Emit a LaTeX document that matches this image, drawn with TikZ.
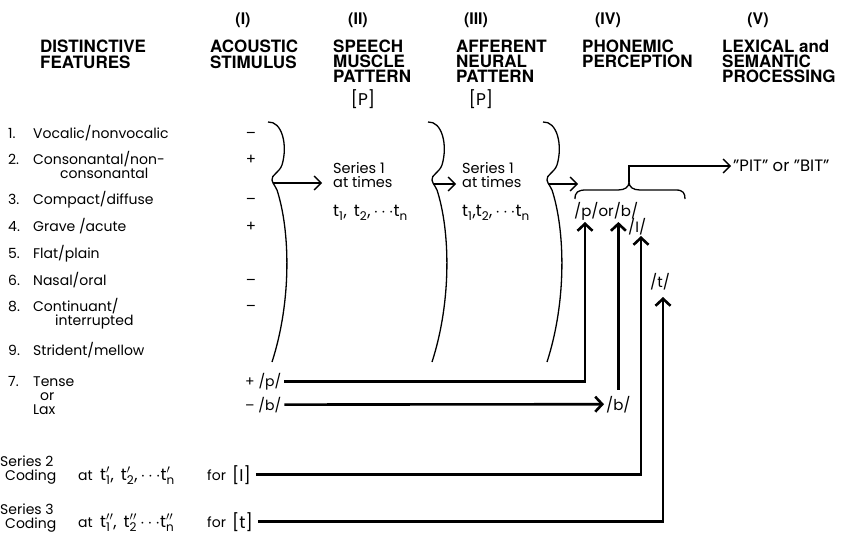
\documentclass[tikz,border=0pt]{standalone}
\usepackage{fontspec}
\setmainfont{Poppins}
\newfontfamily\headfont{TeX Gyre Heros}
\usetikzlibrary{arrows.meta}
\newcommand{\tsub}[2]{t$^{#2}_{\mbox{\fontsize{12}{12}\selectfont #1}}$}
\tikzset{
  hd/.style={font=\headfont\bfseries\fontsize{17}{16}\selectfont, align=left, anchor=north west, inner sep=0pt},
  hdtight/.style={hd, font=\headfont\bfseries\fontsize{17}{15}\selectfont},
  num/.style={font=\headfont\bfseries\fontsize{16}{16}\selectfont, inner sep=0pt},
  txt/.style={font=\fontsize{14}{14}\selectfont, anchor=base west, inner sep=0pt},
  tms/.style={txt, font=\fontsize{16.5}{16}\selectfont},
  sgn/.style={font=\fontsize{15}{15}\selectfont, anchor=base, inner sep=0pt},
  brk/.style={font=\fontsize{17}{17}\selectfont, anchor=base west, inner sep=0pt},
  brace/.style={line width=1.3pt},
  thinarr/.style={line width=1.4pt, -{Straight Barb[length=7pt,width=14pt]}},
  thickarr/.style={line width=2.6pt, -{Straight Barb[length=7pt,width=15pt]}}
}
\begin{document}
\begin{tikzpicture}[x=1pt,y=-1pt]
\useasboundingbox (0,0) rectangle (845,535);
% column heads
\node[num] (nI) at (243,20) {(I)};
\node[num] (nII) at (358,20) {(II)};
\node[num] (nIII) at (476,20) {(III)};
\node[num] (nIV) at (608,20) {(IV)};
\node[num] (nV) at (758,20) {(V)};
\node[hd] (feat) at (40,40) {DISTINCTIVE\\FEATURES};
\node[hd] (acou) at (210,40) {ACOUSTIC\\STIMULUS};
\node[hdtight] (musc) at (333,40) {SPEECH\\MUSCLE\\PATTERN};
\node[hdtight] (neur) at (456,40) {AFFERENT\\NEURAL\\PATTERN};
\node[hdtight] (phon) at (582,40) {PHONEMIC\\PERCEPTION};
\node[hdtight] (lex) at (722,40) {LEXICAL and\\SEMANTIC\\PROCESSING};
\node[brk, anchor=base] (pm) at (363,105) {[P]};
\node[brk, anchor=base] (pn) at (481,105) {[P]};
% features
\node[txt] (r1) at (8,138) {\makebox[25pt][l]{1.}Vocalic/nonvocalic};
\node[txt] (r2) at (8,164) {\makebox[25pt][l]{2.}Consonantal/non-};
\node[txt] (r2b) at (60,178) {consonantal};
\node[txt] (r3) at (8,204) {\makebox[25pt][l]{3.}Compact/diffuse};
\node[txt] (r4) at (8,231) {\makebox[25pt][l]{4.}Grave /acute};
\node[txt] (r5) at (8,258) {\makebox[25pt][l]{5.}Flat/plain};
\node[txt] (r6) at (8,285) {\makebox[25pt][l]{6.}Nasal/oral};
\node[txt] (r8) at (8,311) {\makebox[25pt][l]{8.}Continuant/};
\node[txt] (r8b) at (55,325) {interrupted};
\node[txt] (r9) at (8,355) {\makebox[25pt][l]{9.}Strident/mellow};
\node[txt] (r7) at (8,386) {\makebox[25pt][l]{7.}Tense};
\node[txt] (r7b) at (40,400) {or};
\node[txt] (r7c) at (33,414) {Lax};
% feature values
\node[sgn] at (251,138) {--};
\node[sgn] at (251,164) {+};
\node[sgn] at (251,204) {--};
\node[sgn] at (251,231) {+};
\node[sgn] at (251,285) {--};
\node[sgn] at (251,311) {--};
\node[txt] (p) at (245,386) {+ /p/};
\node[txt] (b) at (245,410) {-- /b/};
% braces
\foreach \bx in {268,428,543}
  \draw[brace, xshift=\bx pt] (0,122) .. controls (14,121) and (20,145) .. (14,165)
    .. controls (11,173) and (3,175) .. (4,180) .. controls (5,185) and (8,186) .. (9,190)
    .. controls (22,230) and (24,300) .. (4,362);
\coordinate (j1) at (273,183);
\coordinate (j2) at (433,184);
\coordinate (j3) at (548,184);
\coordinate (a1) at (322,183);
\coordinate (a2) at (456,184);
\coordinate (a3) at (578,184);
\draw[thinarr] (j1) -- (a1);
\draw[thinarr] (j2) -- (a2);
\draw[thinarr] (j3) -- (a3);
\node[txt, align=left, font=\fontsize{14.5}{14}\selectfont] (s1a) at (333,187) {Series 1\\at times};
\node[tms] (t1a) at (333,216) {\tsub{1}{},\, \tsub{2}{},$\,\cdots$\tsub{n}{}};
\node[txt, align=left, font=\fontsize{14.5}{14}\selectfont] (s1b) at (462,187) {Series 1\\at times};
\node[tms] (t1b) at (462,216) {\tsub{1}{},\tsub{2}{},$\,\cdots$\tsub{n}{}};
% phonemic perception
\draw[brace] (575,199) .. controls (575,192) and (578,190) .. (586,190) -- (618,190)
  .. controls (625,190) and (629,187) .. (629,182) .. controls (629,187) and (633,190) .. (640,190)
  -- (676,190) .. controls (683,190) and (685,193) .. (685,199);
\coordinate (hb) at (629,182);
\node[txt, anchor=west, font=\fontsize{16.5}{16}\selectfont] (pit) at (733,166) {"PIT" or "BIT"};
\draw[thinarr] (hb) |- ([xshift=-2pt]pit.west);
\node[txt, font=\fontsize{15}{15}\selectfont] (pob) at (574,216) {/p/or/b/};
\node[txt, font=\fontsize{15}{15}\selectfont] (ph) at (628,232) {/I/};
\node[txt, font=\fontsize{15}{15}\selectfont] (th) at (650,287) {/t/};
\node[txt, font=\fontsize{15}{15}\selectfont] (b2) at (606,410) {/b/};
\coordinate (tP) at (585,222);
\coordinate (tB) at (617,222);
\coordinate (tI) at (641,236);
\coordinate (tT) at (663,297);
% coding series
\node[txt] (s2) at (0,466) {Series 2};
\node[txt] (c2) at (5,480) {Coding};
\node[txt] (at2) at (78,480) {at};
\node[tms] (f2) at (100,480) {\tsub{1}{\prime},\, \tsub{2}{\prime},$\,\cdots$\tsub{n}{\prime}};
\node[txt] (for2) at (207,480) {for};
\node[brk] (i2) at (232,481) {[I]};
\node[txt] (s3) at (0,514) {Series 3};
\node[txt] (c3) at (5,528) {Coding};
\node[txt] (at3) at (78,527) {at};
\node[tms] (f3) at (100,527) {\tsub{1}{\prime\prime},\, \tsub{2}{\prime\prime}$\,\cdots$\tsub{n}{\prime\prime}};
\node[txt] (for3) at (207,527) {for};
\node[brk] (i3) at (232,528) {[t]};
% connections
\draw[thickarr] ([xshift=3pt]p.east) -| (tP);
\draw[thickarr] ([xshift=3pt]b.east) -- ([xshift=-2pt]b2.west);
\draw[thickarr] ([yshift=6pt]b2.north) -- (b2.north |- tB);
\draw[thickarr] ([xshift=5pt]i2.east) -| (tI);
\draw[thickarr] ([xshift=5pt]i3.east) -| (tT);
\end{tikzpicture}
\end{document}
